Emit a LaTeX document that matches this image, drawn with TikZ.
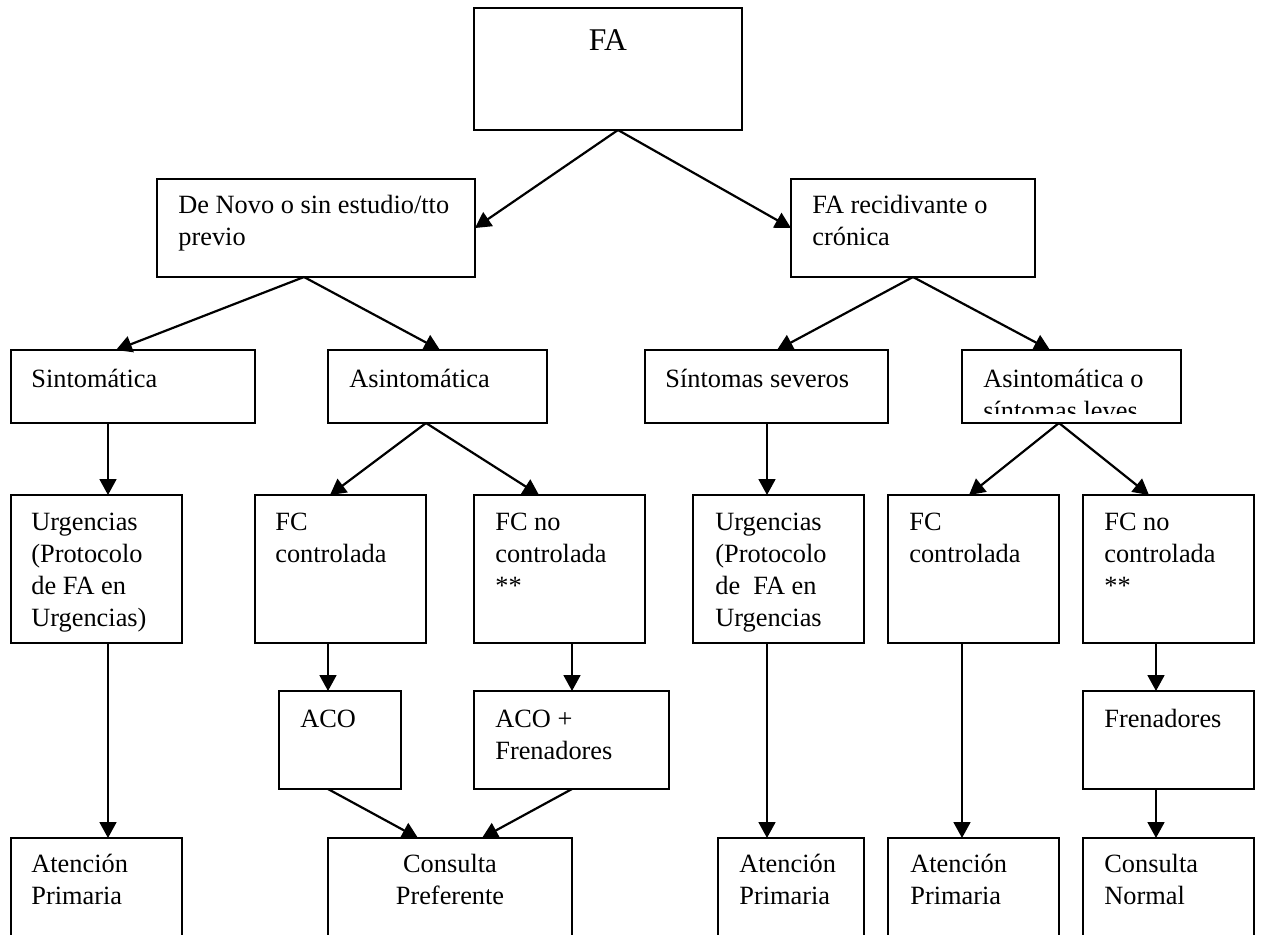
\documentclass[tikz,border=0pt]{standalone}
\usepackage{fontspec}
\setmainfont{Liberation Serif}
\usepackage{tikz}
\usetikzlibrary{arrows.meta}
\usetikzlibrary{fit,calc}
\tikzstyle{caja}=[draw, line width=0.8pt, inner sep=0pt, outer sep=0pt]
\tikzstyle{texto}=[inner sep=0pt, anchor=base west, font=\fontsize{15}{18.3}\selectfont]
\tikzstyle{flecha}=[line width=1.25pt, -{Triangle[length=9pt,width=9.5pt]}]
\newcommand{\lineas}[2][l]{\begin{tabular}[t]{@{}#1@{}}#2\end{tabular}}

\begin{document}
\begin{tikzpicture}[x=0.02cm, y=-0.02cm]
\clip (0,0) rectangle (1261,934);
% cajas: esquinas en pixeles
\foreach \n/\xa/\ya/\xb/\yb in {fa/474/8/742/130, denovo/157/179/475/277, recid/791/179/1035/277,
	sint/11/350/255/423, asint/328/350/547/423, sev/645/350/888/423, leve/962/350/1181/423,
	urgL/11/495/182/643, fcL/255/495/426/643, fcnoL/474/495/645/643,
	urgR/693/495/864/643, fcR/888/495/1059/643, fcnoR/1083/495/1254/643,
	aco/279/691/401/789, acof/474/691/669/789, fren/1083/691/1254/789,
	apL/11/838/182/960, cp/328/838/572/960, apR/718/838/864/960, apRR/888/838/1059/960, cn/1083/838/1254/960} {
	\node[caja, fit={(\xa,\ya) (\xb,\yb)}] (\n) {};
}
% textos
\node[texto, anchor=base, font=\fontsize{18}{21}\selectfont] at (608,50) {FA};
\node[texto] at (178,213) {\lineas{De Novo o sin estudio/tto\\previo}};
\node[texto] at (812,213) {\lineas{FA recidivante o\\crónica}};
\node[texto] at (31,387) {Sintomática};
\node[texto] at (349,387) {Asintomática};
\node[texto] at (665,387) {Síntomas severos};
\begin{scope}
	\clip (962,350) rectangle (1181,413);
	\node[texto] at (983,387) {\lineas{Asintomática o\\síntomas leves}};
\end{scope}
\node[texto] at (31,530) {\lineas{Urgencias\\(Protocolo\\de FA en\\Urgencias)}};
\node[texto] at (275,530) {\lineas{FC\\controlada}};
\node[texto] at (495,530) {\lineas{FC no\\controlada\\{}**}};
\node[texto] at (715,530) {\lineas{Urgencias\\(Protocolo\\de\ \ FA en\\Urgencias}};
\node[texto] at (909,530) {\lineas{FC\\controlada}};
\node[texto] at (1104,530) {\lineas{FC no\\controlada\\{}**}};
\node[texto] at (300,727) {ACO};
\node[texto] at (495,727) {\lineas{ACO +\\Frenadores}};
\node[texto] at (1104,727) {Frenadores};
\node[texto] at (31,872) {\lineas{Atención\\Primaria}};
\node[texto, anchor=base] at (450,872) {\lineas[c]{Consulta\\Preferente}};
\node[texto] at (739,872) {\lineas{Atención\\Primaria}};
\node[texto] at (910,872) {\lineas{Atención\\Primaria}};
\node[texto] at (1104,872) {\lineas{Consulta\\Normal}};
% flechas
\draw[flecha] ($(fa.south west)+(144,0)$) -- (denovo.east);
\draw[flecha] ($(fa.south west)+(144,0)$) -- (recid.west);
\draw[flecha] ($(denovo.south west)+(147,0)$) -- ($(sint.north west)+(105,0)$);
\draw[flecha] ($(denovo.south west)+(147,0)$) -- ($(asint.north west)+(112,0)$);
\draw[flecha] ($(recid.south west)+(122,0)$) -- ($(sev.north west)+(132,0)$);
\draw[flecha] ($(recid.south west)+(122,0)$) -- ($(leve.north west)+(88,0)$);
\draw[flecha] ($(sint.south west)+(97,0)$) -- ($(urgL.north west)+(97,0)$);
\draw[flecha] ($(asint.south west)+(98,0)$) -- ($(fcL.north west)+(75,0)$);
\draw[flecha] ($(asint.south west)+(98,0)$) -- ($(fcnoL.north west)+(65,0)$);
\draw[flecha] ($(sev.south west)+(122,0)$) -- ($(urgR.north west)+(74,0)$);
\draw[flecha] ($(leve.south west)+(97,0)$) -- ($(fcR.north west)+(81,0)$);
\draw[flecha] ($(leve.south west)+(97,0)$) -- ($(fcnoR.north west)+(66,0)$);
\draw[flecha] ($(urgL.south west)+(97,0)$) -- ($(apL.north west)+(97,0)$);
\draw[flecha] ($(fcL.south west)+(73,0)$) -- ($(aco.north west)+(49,0)$);
\draw[flecha] ($(fcnoL.south west)+(98,0)$) -- ($(acof.north west)+(98,0)$);
\draw[flecha] ($(urgR.south west)+(74,0)$) -- ($(apR.north west)+(49,0)$);
\draw[flecha] ($(fcR.south west)+(74,0)$) -- ($(apRR.north west)+(74,0)$);
\draw[flecha] ($(fcnoR.south west)+(73,0)$) -- ($(fren.north west)+(73,0)$);
\draw[flecha] ($(fren.south west)+(73,0)$) -- ($(cn.north west)+(73,0)$);
\draw[flecha] ($(aco.south west)+(49,0)$) -- ($(cp.north west)+(90,0)$);
\draw[flecha] ($(acof.south west)+(98,0)$) -- ($(cp.north west)+(154,0)$);
\end{tikzpicture}
\end{document}
